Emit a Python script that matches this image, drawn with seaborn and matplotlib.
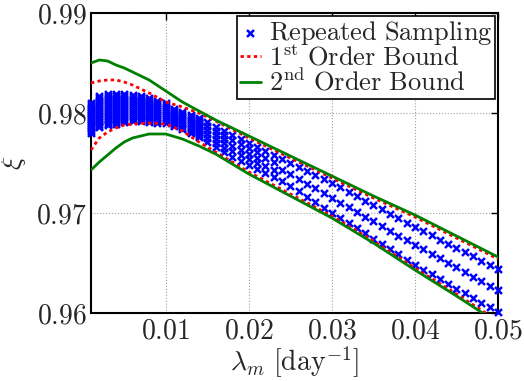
import numpy as np
import pandas as pd
import matplotlib
matplotlib.use("Agg")
import matplotlib.pyplot as plt
import seaborn as sns

# ---------------- data ----------------
lam_cols = [0.001, 0.002, 0.003, 0.004, 0.005, 0.006, 0.007, 0.008, 0.009, 0.010,
            0.011, 0.012, 0.013, 0.014, 0.015, 0.016, 0.017, 0.018, 0.019, 0.020,
            0.021, 0.022, 0.023, 0.024, 0.025, 0.026, 0.027, 0.028, 0.029, 0.030,
            0.031, 0.032, 0.033, 0.034, 0.035, 0.036, 0.037, 0.038, 0.039, 0.040,
            0.041, 0.042, 0.043, 0.044, 0.045, 0.046, 0.047, 0.048, 0.049, 0.050]

# sampled xi values per column, in units of 1e-4
samples_e4 = [
    [9810, 9808, 9806, 9804, 9802, 9800, 9798, 9796, 9794, 9792, 9790, 9788, 9786, 9784, 9782, 9780],
    [9817, 9815, 9813, 9811, 9809, 9807, 9805, 9803, 9801, 9799, 9797, 9795, 9793, 9791, 9789, 9787, 9786],
    [9819, 9817, 9815, 9813, 9811, 9809, 9807, 9805, 9803, 9801, 9799, 9797, 9795, 9793, 9791, 9789, 9788],
    [9819, 9817, 9815, 9813, 9811, 9809, 9807, 9805, 9803, 9801, 9799, 9797, 9795, 9793, 9791, 9789],
    [9819, 9817, 9815, 9813, 9811, 9809, 9807, 9805, 9803, 9801, 9799, 9797, 9795, 9793, 9791],
    [9818, 9816, 9814, 9812, 9810, 9808, 9806, 9804, 9802, 9800, 9798, 9796, 9794, 9792],
    [9817, 9815, 9813, 9811, 9809, 9807, 9805, 9803, 9801, 9799, 9797, 9795, 9793, 9792],
    [9815, 9813, 9811, 9809, 9807, 9805, 9803, 9801, 9799, 9797, 9795, 9793, 9791],
    [9812, 9810, 9808, 9806, 9804, 9802, 9800, 9798, 9796, 9794, 9792, 9790],
    [9810, 9808, 9806, 9804, 9802, 9800, 9798, 9796, 9794, 9792, 9790],
    [9804, 9802, 9800, 9798, 9796, 9794, 9792, 9790, 9788, 9787],
    [9801, 9799, 9797, 9795, 9793, 9791, 9789, 9787, 9785, 9784],
    [9798, 9796, 9794, 9792, 9790, 9788, 9786, 9784, 9782, 9780],
    [9795, 9793, 9791, 9789, 9787, 9785, 9783, 9781, 9779, 9777, 9776],
    [9791, 9787, 9783, 9779, 9775, 9771],
    [9786, 9782, 9778, 9774, 9770, 9766],
    [9782, 9778, 9774, 9770, 9765, 9761],
    [9778, 9773, 9767, 9762, 9756],
    [9774, 9769, 9763, 9758, 9752],
    [9770, 9765, 9759, 9754, 9748],
    [9766, 9761, 9755, 9750, 9744],
    [9762, 9755, 9747, 9740],
    [9758, 9751, 9743, 9736],
    [9754, 9743, 9732],
    [9750, 9739, 9727],
    [9746, 9734, 9722],
    [9742, 9729, 9716],
    [9738, 9725, 9711],
    [9734, 9720, 9705],
    [9730, 9715, 9700],
    [9726, 9710, 9695],
    [9721, 9706, 9690],
    [9717, 9701, 9685],
    [9712, 9696, 9680],
    [9708, 9692, 9674],
    [9704, 9687, 9669],
    [9699, 9682, 9664],
    [9695, 9677, 9659],
    [9690, 9673, 9653],
    [9686, 9668, 9648],
    [9682, 9664, 9643],
    [9678, 9659, 9639],
    [9673, 9655, 9634],
    [9669, 9650, 9629],
    [9665, 9646, 9624],
    [9661, 9641, 9620],
    [9657, 9636, 9615],
    [9652, 9632, 9610],
    [9648, 9627, 9606],
    [9644, 9623, 9601],
]

lam_bound = [0.001, 0.002, 0.003, 0.004, 0.005, 0.006, 0.008, 0.010, 0.012,
             0.014, 0.016, 0.020, 0.025, 0.030, 0.035, 0.040, 0.045, 0.050]
first_upper = [.9830, .9832, .9833, .9833, .9831, .9828, .9820, .9811, .9806,
               .9800, .9792, .9775, .9755, .9735, .9715, .9696, .9675, .9654]
first_lower = [.9763, .9775, .9781, .9785, .9788, .9789, .9790, .9789, .9782,
               .9771, .9761, .9741, .9719, .9697, .9672, .9645, .9619, .9592]
second_upper = [.9850, .9853, .9852, .9848, .9845, .9841, .9833, .9822, .9811,
                .9802, .9793, .9777, .9757, .9737, .9717, .9698, .9677, .9656]
second_lower = [.9743, .9751, .9758, .9765, .9771, .9775, .9779, .9779, .9774,
                .9767, .9759, .9739, .9717, .9695, .9670, .9643, .9617, .9590]

x_ticks = [0.01, 0.02, 0.03, 0.04, 0.05]
x_tick_labels = ["0.01", "0.02", "0.03", "0.04", "0.05"]
y_ticks = [0.96, 0.97, 0.98, 0.99]
y_tick_labels = ["0.96", "0.97", "0.98", "0.99"]

# ---------------- figure ----------------
sns.set_theme(style="white")
plt.rcParams["font.family"] = ["DejaVu Serif"]
plt.rcParams["mathtext.fontset"] = "cm"

fig = plt.figure(figsize=(5.24, 3.81), dpi=100)
ax = fig.add_axes([0.1737, 0.1785, 0.7767, 0.7874])

df_s = pd.DataFrame({
    "lam": [x for x, col in zip(lam_cols, samples_e4) for _ in col],
    "xi": [v / 1e4 for col in samples_e4 for v in col],
})
sns.scatterplot(data=df_s, x="lam", y="xi", marker="x", color="blue", s=25,
                linewidth=1.8, ax=ax, clip_on=False, zorder=3,
                label=r"$\mathrm{Repeated\ Sampling}$")

df_b = pd.DataFrame({"lam": lam_bound, "fu": first_upper, "fl": first_lower,
                     "su": second_upper, "sl": second_lower})
red_ls = (0, (1.2, 1.2))
sns.lineplot(data=df_b, x="lam", y="fu", color="red", lw=2, linestyle=red_ls,
             ax=ax, zorder=4, label=r"$1^{\mathrm{st}}\ \mathrm{Order\ Bound}$")
sns.lineplot(data=df_b, x="lam", y="fl", color="red", lw=2, linestyle=red_ls,
             ax=ax, zorder=4, label="_nolegend_")
sns.lineplot(data=df_b, x="lam", y="su", color="green", lw=2, ax=ax, zorder=5,
             label=r"$2^{\mathrm{nd}}\ \mathrm{Order\ Bound}$")
sns.lineplot(data=df_b, x="lam", y="sl", color="green", lw=2, ax=ax, zorder=5,
             label="_nolegend_")

ax.set_xlim(0.001, 0.05)
ax.set_ylim(0.96, 0.99)
ax.set_xticks(x_ticks)
ax.set_xticklabels(["$" + t + "$" for t in x_tick_labels], fontsize=20)
ax.set_yticks(y_ticks)
ax.set_yticklabels(["$" + t + "$" for t in y_tick_labels], fontsize=20)
ax.tick_params(direction="in", top=True, right=True, length=5, width=1,
               color="black", pad=3)
ax.grid(True, linestyle=":", color="#a0a0a0", lw=0.8)
for sp in ax.spines.values():
    sp.set_color("black")
    sp.set_linewidth(1.5)

ax.set_xlabel(r"$\lambda_m\ [\mathrm{day}^{-1}]$", fontsize=20, labelpad=0)
ax.set_ylabel(r"$\xi$", fontsize=20, labelpad=6)

leg = ax.legend(loc="upper right", fontsize=19, frameon=True, fancybox=False,
                edgecolor="black", framealpha=1, borderpad=0.12,
                labelspacing=-0.08, handlelength=0.8, handletextpad=0.3,
                borderaxespad=0.1, scatterpoints=1)
leg.get_frame().set_linewidth(1.2)

fig.savefig("out.png", dpi=100)
